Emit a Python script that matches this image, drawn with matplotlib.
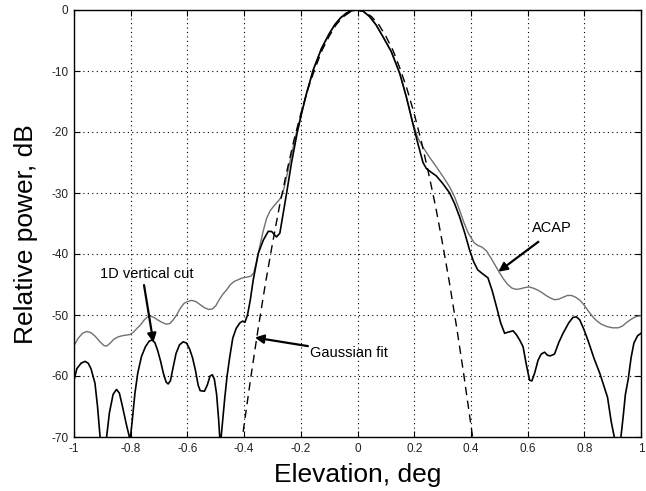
import matplotlib
matplotlib.use("Agg")
import matplotlib.pyplot as plt

# ---------------- data ----------------
acap_x = [-1.0, -0.985, -0.970, -0.955, -0.940, -0.925, -0.910, -0.895, -0.885, -0.872,
          -0.860, -0.845, -0.830, -0.815, -0.802, -0.790, -0.778, -0.765, -0.752, -0.740,
          -0.730, -0.718, -0.705, -0.690, -0.675, -0.662, -0.650, -0.638, -0.625, -0.612,
          -0.600, -0.585, -0.570, -0.555, -0.540, -0.525, -0.512, -0.500, -0.488, -0.475,
          -0.462, -0.448, -0.435, -0.420, -0.405, -0.390, -0.375, -0.366, -0.355, -0.345,
          -0.333, -0.321, -0.308, -0.298, -0.285, -0.274, -0.265, -0.257, -0.248, -0.239,
          -0.227, -0.215, -0.197, -0.180, -0.156, -0.127, -0.100, -0.080, -0.060, -0.039,
          -0.020, 0.0, 0.020, 0.043, 0.065, 0.090, 0.119, 0.149, 0.172, 0.196,
          0.213, 0.231, 0.255, 0.278, 0.300, 0.325, 0.343, 0.360, 0.375, 0.389,
          0.400, 0.412, 0.425, 0.440, 0.455, 0.470, 0.485, 0.500, 0.515, 0.530,
          0.545, 0.560, 0.575, 0.590, 0.605, 0.620, 0.635, 0.650, 0.665, 0.680,
          0.695, 0.710, 0.725, 0.740, 0.755, 0.770, 0.785, 0.800, 0.815, 0.830,
          0.845, 0.860, 0.880, 0.900, 0.920, 0.935, 0.950, 0.965, 0.980, 1.0]
acap_y = [-55.0, -53.8, -53.0, -52.7, -52.9, -53.5, -54.3, -55.0, -55.1, -54.6,
          -54.0, -53.6, -53.4, -53.3, -53.2, -52.8, -52.2, -51.6, -50.8, -50.3,
          -50.2, -50.4, -50.8, -51.2, -51.5, -51.4, -50.8, -50.0, -48.9, -48.1,
          -47.8, -47.6, -47.8, -48.3, -48.8, -49.1, -49.0, -48.5, -47.5, -46.6,
          -45.9, -45.0, -44.5, -44.2, -43.9, -43.8, -43.6, -43.1, -41.0, -38.8,
          -36.3, -34.2, -32.9, -32.3, -31.6, -31.0, -30.2, -28.8, -26.9, -25.0,
          -22.5, -20.0, -16.9, -13.7, -9.8, -6.3, -3.9, -2.4, -1.3, -0.5,
          -0.1, 0.0, -0.2, -1.1, -2.4, -4.4, -6.8, -10.4, -14.2, -18.6,
          -21.0, -22.5, -24.2, -25.7, -27.2, -29.0, -30.7, -32.8, -34.8, -36.4,
          -37.3, -38.2, -38.6, -38.9, -39.5, -40.6, -41.8, -43.0, -44.1, -45.0,
          -45.6, -45.8, -45.7, -45.5, -45.4, -45.6, -45.9, -46.3, -46.8, -47.2,
          -47.5, -47.4, -47.1, -46.8, -46.8, -47.1, -47.6, -48.4, -49.4, -50.3,
          -51.0, -51.5, -51.9, -52.1, -52.1, -51.8, -51.2, -50.7, -50.3, -50.1]

cut_x = [-1.0, -0.990, -0.975, -0.961, -0.950, -0.940, -0.926, -0.917, -0.908, -0.897,
         -0.885, -0.875, -0.862, -0.850, -0.840, -0.830, -0.815, -0.802, -0.795, -0.785,
         -0.775, -0.762, -0.748, -0.735, -0.725, -0.715, -0.705, -0.695, -0.685, -0.675,
         -0.668, -0.660, -0.650, -0.640, -0.628, -0.615, -0.603, -0.592, -0.582, -0.572,
         -0.562, -0.555, -0.540, -0.530, -0.520, -0.512, -0.505, -0.497, -0.490, -0.484,
         -0.475, -0.468, -0.460, -0.451, -0.440, -0.428, -0.415, -0.405, -0.397, -0.388,
         -0.378, -0.368, -0.350, -0.332, -0.315, -0.303, -0.286, -0.274, -0.262, -0.250,
         -0.233, -0.213, -0.197, -0.180, -0.156, -0.127, -0.100, -0.080, -0.060, -0.039,
         -0.020, 0.0, 0.020, 0.043, 0.065, 0.090, 0.119, 0.149, 0.172, 0.195,
         0.213, 0.231, 0.243, 0.260, 0.278, 0.300, 0.325, 0.343, 0.360, 0.378,
         0.395, 0.410, 0.424, 0.440, 0.460, 0.475, 0.490, 0.505, 0.519, 0.532,
         0.549, 0.560, 0.572, 0.584, 0.595, 0.607, 0.615, 0.625, 0.637, 0.648,
         0.660, 0.670, 0.680, 0.695, 0.710, 0.725, 0.745, 0.760, 0.772, 0.784,
         0.798, 0.814, 0.835, 0.855, 0.870, 0.882, 0.895, 0.908, 0.918, 0.928,
         0.937, 0.945, 0.955, 0.965, 0.975, 0.988, 1.0]
cut_y = [-60.7, -58.8, -57.9, -57.6, -57.9, -58.8, -61.2, -65.0, -70.0, -74.0,
         -70.0, -66.0, -63.0, -62.2, -62.8, -64.8, -68.0, -70.5, -67.5, -62.8,
         -59.5, -56.8, -55.2, -54.3, -54.1, -54.5, -55.8, -57.5, -59.5, -61.0,
         -61.3, -60.8, -58.5, -56.3, -54.9, -54.4, -54.6, -55.6, -57.0, -59.0,
         -61.5, -62.4, -62.5, -61.5, -60.0, -59.8, -60.5, -63.0, -67.0, -71.5,
         -67.0, -63.5, -60.0, -57.0, -53.8, -52.2, -51.3, -51.0, -51.2, -50.0,
         -47.5, -44.3, -39.9, -37.7, -36.3, -36.3, -37.2, -36.6, -33.3, -30.0,
         -25.1, -20.2, -16.9, -13.7, -9.8, -6.3, -3.9, -2.4, -1.3, -0.5,
         -0.1, 0.0, -0.2, -1.1, -2.4, -4.4, -6.8, -10.4, -14.2, -18.6,
         -21.9, -25.0, -26.0, -26.6, -27.2, -28.4, -30.0, -31.8, -33.9, -36.5,
         -39.3, -41.3, -42.6, -43.2, -43.9, -46.0, -48.6, -51.3, -53.0, -52.8,
         -52.6, -53.2, -54.1, -55.2, -58.0, -60.7, -60.8, -59.5, -57.4, -56.4,
         -56.1, -56.6, -56.7, -56.4, -54.5, -53.0, -51.3, -50.4, -50.3, -50.8,
         -52.3, -54.3, -57.2, -59.6, -61.8, -63.5, -67.5, -70.5, -74.0, -70.5,
         -66.7, -63.0, -60.5, -57.0, -54.6, -53.4, -53.0]

gauss_x = [-0.41, -0.400, -0.375, -0.350, -0.325, -0.300, -0.275, -0.250, -0.225, -0.200,
           -0.175, -0.150, -0.125, -0.100, -0.075, -0.050, -0.025, 0.0,
           0.025, 0.050, 0.075, 0.100, 0.125, 0.150, 0.175, 0.200, 0.225, 0.250,
           0.275, 0.300, 0.325, 0.350, 0.375, 0.400, 0.41]
gauss_y = [-71.4, -68.0, -59.8, -52.1, -44.9, -38.3, -32.1, -26.6, -21.5, -17.0,
           -13.0, -9.6, -6.6, -4.3, -2.4, -1.1, -0.3, 0.0,
           -0.3, -1.1, -2.4, -4.3, -6.6, -9.6, -13.0, -17.0, -21.5, -26.6,
           -32.1, -38.3, -44.9, -52.1, -59.8, -68.0, -71.4]

x_ticks = [-1, -0.8, -0.6, -0.4, -0.2, 0, 0.2, 0.4, 0.6, 0.8, 1]
x_tick_labels = ["-1", "-0.8", "-0.6", "-0.4", "-0.2", "0", "0.2", "0.4", "0.6", "0.8", "1"]
y_ticks = [0, -10, -20, -30, -40, -50, -60, -70]
y_tick_labels = ["0", "-10", "-20", "-30", "-40", "-50", "-60", "-70"]

# annotation positions (text, text anchor, arrow tail, arrow head)
label_cut = ("1D vertical cut", (-0.908, -43.2), (-0.753, -45.1), (-0.720, -54.5))
label_gauss = ("Gaussian fit", (-0.168, -56.2), (-0.175, -55.1), (-0.362, -53.7))
label_acap = ("ACAP", (0.614, -35.8), (0.638, -38.0), (0.497, -42.9))

# ---------------- figure ----------------
plt.rcParams['font.family'] = ['Liberation Sans', 'DejaVu Sans']
fig = plt.figure(figsize=(6.46, 4.91), dpi=100)
ax = fig.add_axes([74 / 646, 1 - 437 / 491, 567 / 646, 427 / 491])

ax.plot(acap_x, acap_y, color="#707070", lw=1.0)
ax.plot(cut_x, cut_y, color="black", lw=1.2)
ax.plot(gauss_x, gauss_y, color="black", lw=1.0, linestyle=(0, (6, 4)))

ax.set_xlim(-1, 1)
ax.set_ylim(-70, 0)
ax.set_xticks(x_ticks)
ax.set_xticklabels(x_tick_labels)
ax.set_yticks(y_ticks)
ax.set_yticklabels(y_tick_labels)
ax.tick_params(direction="in", top=True, right=True, length=4, width=0.8,
               labelsize=8.5, pad=4, colors="black", labelcolor="#222222")
ax.grid(True, color="black", linestyle=(0, (1, 3)), linewidth=0.8)
for s in ax.spines.values():
    s.set_linewidth(1.0)
    s.set_color("black")

ax.set_xlabel("Elevation, deg", fontsize=19)
ax.xaxis.set_label_coords(0.5, -0.060)
ax.set_ylabel("Relative power, dB", fontsize=19)
ax.yaxis.set_label_coords(-0.064, 0.475)

for text, tpos, tail, head in (label_cut, label_gauss, label_acap):
    ax.text(tpos[0], tpos[1], text, fontsize=10.5, ha="left", va="center")
    ax.annotate("", xy=head, xytext=tail,
                arrowprops=dict(arrowstyle="-|>", color="black", lw=1.6,
                                mutation_scale=13, shrinkA=0, shrinkB=0))

fig.savefig("out.png", dpi=100)
